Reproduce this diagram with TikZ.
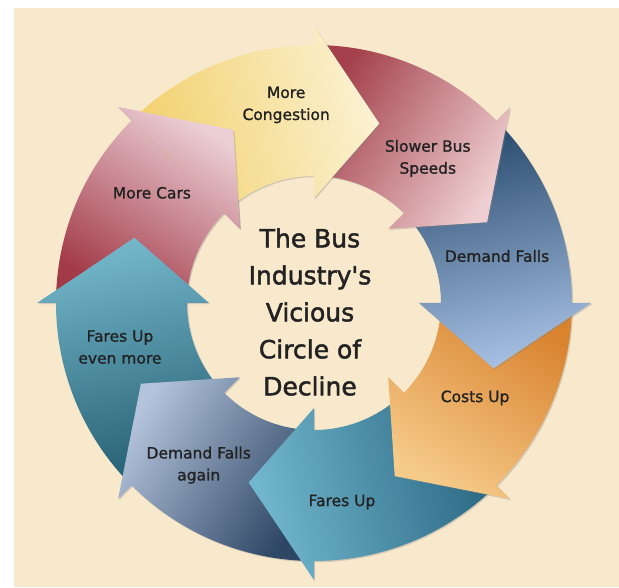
\documentclass[tikz,border=0pt]{standalone}
\usepackage{fontspec}
\setmainfont{DejaVu Sans}
\newfontfamily\labelfont{DejaVu Sans}[FakeBold=1.2]
\newfontfamily\titlefont{DejaVu Sans}[FakeBold=1.8]
\usetikzlibrary{positioning,shadows}

\definecolor{paper}{HTML}{F8E8CC}
\definecolor{inkgray}{HTML}{222222}
% tail / head colours of the eight arrows
\definecolor{congA}{HTML}{F2D06C}\definecolor{congB}{HTML}{FBF2D2}
\definecolor{slowA}{HTML}{A3404B}\definecolor{slowB}{HTML}{EECED0}
\definecolor{demA}{HTML}{27496C}\definecolor{demB}{HTML}{A6C0E2}
\definecolor{costA}{HTML}{D9832F}\definecolor{costB}{HTML}{F6CB8A}
\definecolor{fareA}{HTML}{2A6682}\definecolor{fareB}{HTML}{72B8CE}
\definecolor{againA}{HTML}{2E4765}\definecolor{againB}{HTML}{B3C3DB}
\definecolor{moreA}{HTML}{255E72}\definecolor{moreB}{HTML}{74B7CB}
\definecolor{carsA}{HTML}{A23A47}\definecolor{carsB}{HTML}{ECCFD6}

\newcommand{\Rout}{258}
\newcommand{\Rin}{127}
\newcommand{\Rmid}{191}

% #1 = angle of the head's base, #2 = tail colour, #3 = head colour
\newcommand{\cyclearrow}[3]{%
  \pgfmathsetmacro{\shadeang}{#1-167.5}
  \shade[top color=#3, bottom color=#2, shading angle=\shadeang,
         drop shadow={shadow xshift=1.2pt, shadow yshift=-1.2pt, opacity=.3}]
    (#1+45:\Rout) arc[start angle=#1+45, end angle=#1, radius=\Rout]
    -- (#1:277) -- (#1-20:\Rmid) -- (#1:105) -- (#1:\Rin)
    arc[start angle=#1, end angle=#1+45, radius=\Rin] -- cycle;
}

\tikzset{
  arrowtext/.style={align=center, text=inkgray, font=\labelfont\fontsize{15.5}{22}\selectfont},
  centretext/.style={align=center, text=inkgray, font=\titlefont\fontsize{25}{37}\selectfont}
}

\begin{document}
\begin{tikzpicture}[x=1pt,y=1pt]
  \fill[white] (0,0) rectangle (619,587);
  \fill[paper] (14,0) rectangle (619,579);

  \begin{scope}[shift={(314,284)}]
    % drawn backwards so every head lies on the next tail
    \cyclearrow{135}{carsA}{carsB}
    \cyclearrow{180}{moreA}{moreB}
    \cyclearrow{-135}{againA}{againB}
    \cyclearrow{-90}{fareA}{fareB}
    \cyclearrow{-45}{costA}{costB}
    \cyclearrow{0}{demA}{demB}
    \cyclearrow{45}{slowA}{slowB}
    \cyclearrow{90}{congA}{congB}
    % head of the last arrow goes over the first tail
    \begin{scope}
      \clip (0,0) -- (135:300) arc[start angle=135, end angle=105, radius=300] -- cycle;
      \cyclearrow{135}{carsA}{carsB}
    \end{scope}

    \node[arrowtext] (congestion) at (98:200) {More\\Congestion};
    \node[arrowtext] (slower) at (51.8:184) {Slower Bus\\Speeds};
    \node[arrowtext] (demand) at (14.4:189) {Demand Falls};
    \node[arrowtext] (costs) at (-30.5:187) {Costs Up};
    \node[arrowtext] (fares) at (-82:201) {Fares Up};
    \node[arrowtext] (demandagain) at (-125.4:199) {Demand Falls\\again};
    \node[arrowtext] (faresmore) at (-167.2:199) {Fares Up\\even more};
    \node[arrowtext] (cars) at (145.8:196) {More Cars};

    \node[centretext] (title) at (-4,-9) {The Bus\\Industry's\\Vicious\\Circle of\\Decline};
  \end{scope}
\end{tikzpicture}
\end{document}
